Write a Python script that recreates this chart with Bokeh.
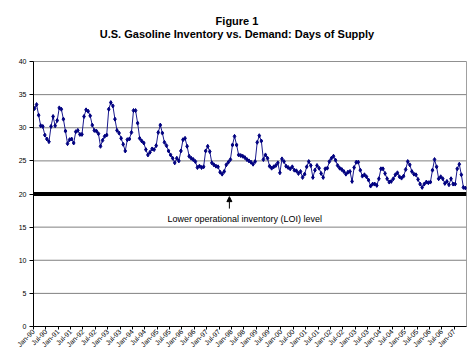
import numpy as np
from bokeh.plotting import figure
from bokeh.layouts import column
from bokeh.models import FixedTicker, Span, Label, Arrow, NormalHead, Range1d, ColumnDataSource
from bokeh.core.properties import value
from bokeh.embed import file_html
from bokeh.resources import INLINE

# Monthly days of supply, Jan-1990 .. Jun-2007
days_of_supply = [
    32.9, 33.5, 31.9, 30.3, 30.2, 28.9, 28.3, 27.9, 30.2, 31.7, 30.3, 31.1,
    33.0, 32.8, 31.3, 29.5, 27.6, 28.2, 28.3, 27.7, 29.4, 29.6, 29.0, 29.0,
    31.7, 32.7, 32.5, 31.8, 30.4, 29.6, 29.5, 29.1, 27.2, 28.1, 28.7, 28.9,
    32.8, 33.8, 33.3, 31.3, 29.6, 29.2, 28.4, 27.5, 26.5, 28.2, 28.3, 29.3,
    32.6, 32.6, 30.7, 28.4, 28.0, 27.7, 26.7, 25.9, 26.3, 26.8, 26.7, 27.3,
    29.3, 30.4, 29.2, 27.8, 27.3, 26.5, 25.9, 25.4, 24.7, 25.4, 25.0, 26.5,
    28.2, 28.4, 27.2, 25.7, 25.4, 25.2, 24.9, 24.0, 24.2, 24.0, 24.1, 26.5,
    27.2, 26.4, 24.7, 24.4, 24.2, 24.1, 23.3, 23.0, 23.4, 24.4, 24.8, 25.2,
    27.4, 28.7, 27.4, 25.9, 25.8, 25.7, 25.5, 25.2, 25.0, 24.8, 24.5, 24.9,
    27.8, 28.8, 28.0, 25.2, 25.9, 25.4, 24.2, 23.9, 24.1, 24.3, 24.7, 23.2,
    25.3, 24.9, 24.2, 24.0, 23.8, 24.1, 23.6, 23.5, 23.1, 23.4, 22.5, 23.0,
    24.1, 24.9, 24.3, 22.5, 23.6, 24.3, 23.9, 23.1, 22.5, 23.8, 23.9, 24.9,
    25.4, 25.7, 25.1, 24.3, 23.9, 23.7, 23.4, 23.0, 23.3, 23.4, 21.9, 24.0,
    24.8, 24.8, 23.6, 22.7, 22.9, 22.6, 22.1, 21.2, 21.5, 21.5, 21.3, 22.3,
    23.8, 23.8, 23.1, 22.3, 21.8, 21.9, 22.3, 22.9, 23.2, 22.6, 22.4, 22.7,
    23.7, 24.9, 24.4, 23.4, 23.0, 22.9, 22.2, 21.5, 21.0, 21.5, 21.8, 21.7,
    21.8, 23.6, 25.2, 24.1, 22.3, 22.6, 22.3, 21.6, 21.9, 21.4, 22.3, 21.5,
    21.5, 23.8, 24.5, 22.9, 21.0, 20.9,
]

tick_labels = [
    "Jan-90", "Jul-90", "Jan-91", "Jul-91", "Jan-92", "Jul-92", "Jan-93", "Jul-93",
    "Jan-94", "Jul-94", "Jan-95", "Jul-95", "Jan-96", "Jul-96", "Jan-97", "Jul-97",
    "Jan-98", "Jul-98", "Jan-99", "Jul-99", "Jan-00", "Jul-00", "Jan-01", "Jul-01",
    "Jan-02", "Jul-02", "Jan-03", "Jul-03", "Jan-04", "Jul-04", "Jan-05", "Jul-05",
    "Jan-06", "Jul-06", "Jan-07",
]
y_ticks = [0, 5, 10, 15, 20, 25, 30, 35, 40]
loi_level = 20

title_1 = "Figure 1"
title_2 = "U.S. Gasoline Inventory vs. Demand: Days of Supply"
loi_text = "Lower operational inventory (LOI) level"

FONT = "Liberation Sans"
W, H = 473, 363
LEFT, RIGHT = 33, 7          # frame borders (px)
TITLE_H, TOP = 50, 11        # title strip, space above frame in main figure
FRAME_H = 265
MAIN_H = H - TITLE_H
BOTTOM = MAIN_H - TOP - FRAME_H
TITLE_CENTER_PX = 236.5      # page x of the title centre

N = len(days_of_supply)
month_index = np.arange(N) + 0.5
tick_pos = [6 * i for i in range(len(tick_labels))]
px_per_month = (W - LEFT - RIGHT) / N

src = ColumnDataSource(dict(x=month_index, y=days_of_supply))

# ---- title strip (its frame is aligned with the chart frame by the column)
pt = figure(width=W, height=TITLE_H, x_range=Range1d(0, N), y_range=Range1d(TITLE_H, 0),
            output_backend="svg", toolbar_location=None,
            x_axis_location=None, y_axis_location=None,
            min_border_left=LEFT, min_border_right=RIGHT, min_border_top=0, min_border_bottom=0)
pt.background_fill_color = "white"
pt.border_fill_color = "white"
pt.outline_line_color = None
pt.xgrid.visible = False
pt.ygrid.visible = False
tx = (TITLE_CENTER_PX - LEFT) / px_per_month
pt.text(x=[tx, tx], y=[20, 33.5], text=[title_1, title_2],
        text_align="center", text_baseline="middle", text_font=value(FONT),
        text_font_size=value("11px"), text_font_style="bold", text_color="black")

# ---- main chart
p = figure(width=W, height=MAIN_H, x_range=Range1d(0, N), y_range=Range1d(0, 40),
           output_backend="svg", toolbar_location=None,
           min_border_left=LEFT, min_border_right=RIGHT, min_border_top=TOP,
           min_border_bottom=BOTTOM)
p.background_fill_color = "white"
p.border_fill_color = "white"
p.outline_line_color = "#a0a0a0"

p.xaxis.ticker = FixedTicker(ticks=tick_pos)
p.xaxis.major_label_overrides = {t: l for t, l in zip(tick_pos, tick_labels)}
p.xaxis.major_label_orientation = np.pi / 4
p.xaxis.major_tick_in = 0
p.xaxis.major_tick_out = 3
p.xaxis.minor_tick_out = 0
p.xaxis.minor_tick_in = 0
p.xaxis.major_label_standoff = 1
p.yaxis.ticker = FixedTicker(ticks=y_ticks)
p.yaxis.major_tick_in = 0
p.yaxis.major_tick_out = 4
p.yaxis.minor_tick_out = 0
p.yaxis.minor_tick_in = 0
p.yaxis.major_label_standoff = 3
for ax in (p.xaxis, p.yaxis):
    ax.axis_line_color = "black"
    ax.major_tick_line_color = "black"
    ax.major_label_text_font = FONT
    ax.major_label_text_font_size = "7px"
    ax.major_label_text_color = "black"

p.xgrid.visible = False
p.ygrid.visible = False
for v in y_ticks[1:]:
    p.add_layout(Span(location=v, dimension="width", line_color="#808080",
                      line_width=1, level="underlay"))

p.add_layout(Span(location=loi_level, dimension="width", line_color="black", line_width=4))

p.line("x", "y", source=src, line_color="#1a1a8c", line_width=1)
p.scatter("x", "y", source=src, marker="diamond", size=4, fill_color="#000080",
          line_color="#000080")

p.add_layout(Arrow(end=NormalHead(size=5, fill_color="black", line_color="black"),
                   x_start=95, y_start=17.8, x_end=95, y_end=19.6,
                   line_color="black", line_width=1))
p.add_layout(Label(x=65, y=16.3, text=loi_text, text_font=FONT, text_font_size="9px",
                   text_baseline="middle", text_align="left", text_color="black"))

layout = column(pt, p, spacing=0)
open("out.html", "w").write(file_html(layout, INLINE))
